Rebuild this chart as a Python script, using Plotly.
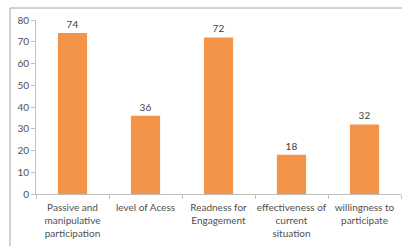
import plotly.graph_objects as go

categories = ["Passive and<br>manipulative<br>participation", "level of Acess",
              "Readness for<br>Engagement", "effectiveness of<br>current<br>situation",
              "willingness to<br>participate"]
values = [74, 36, 72, 18, 32]
y_ticks = [0, 10, 20, 30, 40, 50, 60, 70, 80]

W, H = 402, 246
L, R, T, B = 36, 1, 20, 52
pw, ph = W - L - R, H - T - B

def px(x):
    return (x - L) / pw

def py(y):
    return (H - B - y) / ph

fig = go.Figure(go.Bar(
    x=categories, y=values, width=0.4,
    marker=dict(color="#F39448", line=dict(width=0)),
    text=[str(v) for v in values], textposition="outside",
    textfont=dict(family="Lato", size=10, color="#404040"),
    cliponaxis=False,
))

border = dict(color="#a6a6a6", width=1)
fig.update_layout(
    width=W, height=H,
    margin=dict(l=L, r=R, t=T, b=B),
    paper_bgcolor="white", plot_bgcolor="white",
    showlegend=False,
    bargap=0.6,
    font=dict(family="Lato", size=10, color="#595959"),
    xaxis=dict(showline=True, linecolor="#bfbfbf", linewidth=1,
               ticks="outside", tickson="boundaries", ticklen=4, tickcolor="#bfbfbf",
               tickfont=dict(family="Lato", size=10, color="#505050"),
               ticklabelstandoff=4,
               tickangle=0, showgrid=False, fixedrange=True),
    yaxis=dict(range=[0, 80], tickvals=y_ticks, showline=True, linecolor="#bfbfbf",
               linewidth=1, ticks="outside", ticklen=4, tickcolor="#bfbfbf",
               tickfont=dict(family="Lato", size=10, color="#505050"),
               showgrid=False, zeroline=False, fixedrange=True),
    shapes=[
        dict(type="line", xref="paper", yref="paper",
             x0=px(10), x1=px(402), y0=py(8), y1=py(8), line=border, layer="below"),
        dict(type="line", xref="paper", yref="paper",
             x0=px(10), x1=px(10), y0=py(8), y1=py(246), line=border, layer="below"),
    ],
)

fig.write_html("out.html", config={"displayModeBar": False},
               post_script="document.body.style.margin='0';document.body.style.overflow='hidden';")
